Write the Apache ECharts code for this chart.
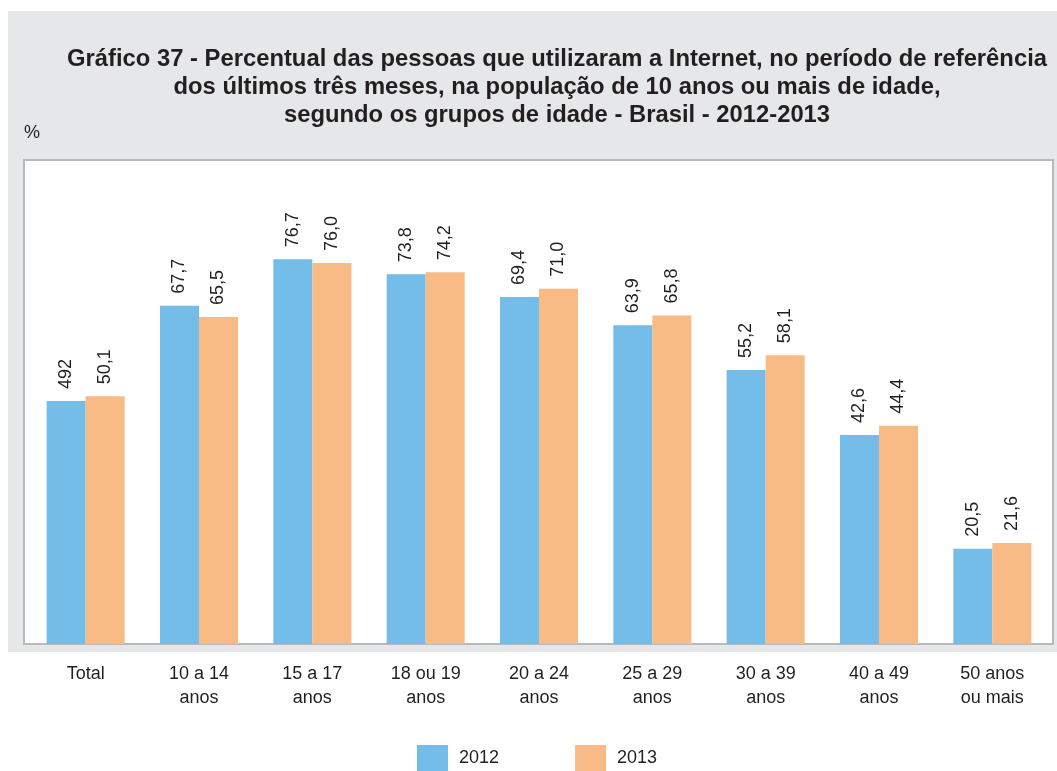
<!DOCTYPE html>
<html>
<head>
<meta charset="utf-8">
<script src="https://cdn.jsdelivr.net/npm/echarts@6/dist/echarts.min.js"></script>
<style>
  html, body { margin: 0; padding: 0; background: #fff; }
  #chart { width: 1057px; height: 771px; }
</style>
</head>
<body>
<div id="chart"></div>
<script>
  var categories = ['Total', '10 a 14\nanos', '15 a 17\nanos', '18 ou 19\nanos', '20 a 24\nanos',
    '25 a 29\nanos', '30 a 39\nanos', '40 a 49\nanos', '50 anos\nou mais'];
  var values2012 = [49.2, 67.7, 76.7, 73.8, 69.4, 63.9, 55.2, 42.6, 20.5];
  var values2013 = [50.1, 65.5, 76.0, 74.2, 71.0, 65.8, 58.1, 44.4, 21.6];
  // printed labels, kept as in the source (the first one reads "492")
  var labels2012 = ['492', '67,7', '76,7', '73,8', '69,4', '63,9', '55,2', '42,6', '20,5'];
  var labels2013 = ['50,1', '65,5', '76,0', '74,2', '71,0', '65,8', '58,1', '44,4', '21,6'];
  var seriesNames = ['2012', '2013'];

  var textColor = '#231f20';
  var font = 'Liberation Sans';

  var chartDom = document.getElementById('chart');
  var myChart = echarts.init(chartDom);

  function barLabel(texts) {
    return {
      show: true,
      position: 'top',
      rotate: 90,
      align: 'left',
      verticalAlign: 'middle',
      distance: 12,
      color: textColor,
      fontFamily: font,
      fontSize: 18,
      formatter: function (p) { return texts[p.dataIndex]; }
    };
  }

  var option = {
    backgroundColor: '#ffffff',
    animation: false,
    graphic: [
      {
        type: 'rect', z: -10,
        shape: { x: 8, y: 11, width: 1049, height: 641 },
        style: { fill: '#e6e7e8' }
      },
      {
        type: 'rect', z: -9,
        shape: { x: 24, y: 160, width: 1029, height: 484 },
        style: { fill: '#ffffff', stroke: '#b8b9bb', lineWidth: 2 }
      },
      {
        type: 'text', z: -8,
        left: 24, top: 124,
        style: { text: '%', fill: textColor, font: '18px "Liberation Sans"' }
      }
    ],
    title: {
      text: 'Gráfico 37 - Percentual das pessoas que utilizaram a Internet, no período de referência\n' +
        'dos últimos três meses, na população de 10 anos ou mais de idade,\n' +
        'segundo os grupos de idade - Brasil - 2012-2013',
      left: 552,
      top: 40,
      textAlign: 'center',
      textStyle: {
        color: textColor,
        fontFamily: font,
        fontWeight: 'bold',
        fontSize: 23.8,
        lineHeight: 28
      }
    },
    legend: {
      data: seriesNames,
      left: 417,
      top: 745,
      padding: 0,
      itemWidth: 31,
      itemHeight: 26,
      itemGap: 76,
      icon: 'rect',
      textStyle: {
        color: textColor,
        fontFamily: font,
        fontSize: 18,
        padding: [0, 0, 0, 6]
      }
    },
    grid: {
      left: 29,
      right: 8,
      top: 160,
      bottom: 127,
      containLabel: false
    },
    xAxis: {
      type: 'category',
      data: categories,
      axisLine: { show: false },
      axisTick: { show: false },
      axisLabel: {
        color: textColor,
        fontFamily: font,
        fontSize: 18,
        lineHeight: 24,
        margin: 18,
        interval: 0
      }
    },
    yAxis: {
      type: 'value',
      min: 2,
      max: 96,
      show: false,
      splitLine: { show: false }
    },
    series: [
      {
        name: seriesNames[0],
        type: 'bar',
        data: values2012,
        barWidth: 39,
        barGap: '0%',
        itemStyle: { color: '#73bde8' },
        label: barLabel(labels2012)
      },
      {
        name: seriesNames[1],
        type: 'bar',
        data: values2013,
        barWidth: 39,
        barGap: '0%',
        itemStyle: { color: '#f9bb86' },
        label: barLabel(labels2013)
      }
    ]
  };
  option && myChart.setOption(option);
</script>
</body>
</html>
